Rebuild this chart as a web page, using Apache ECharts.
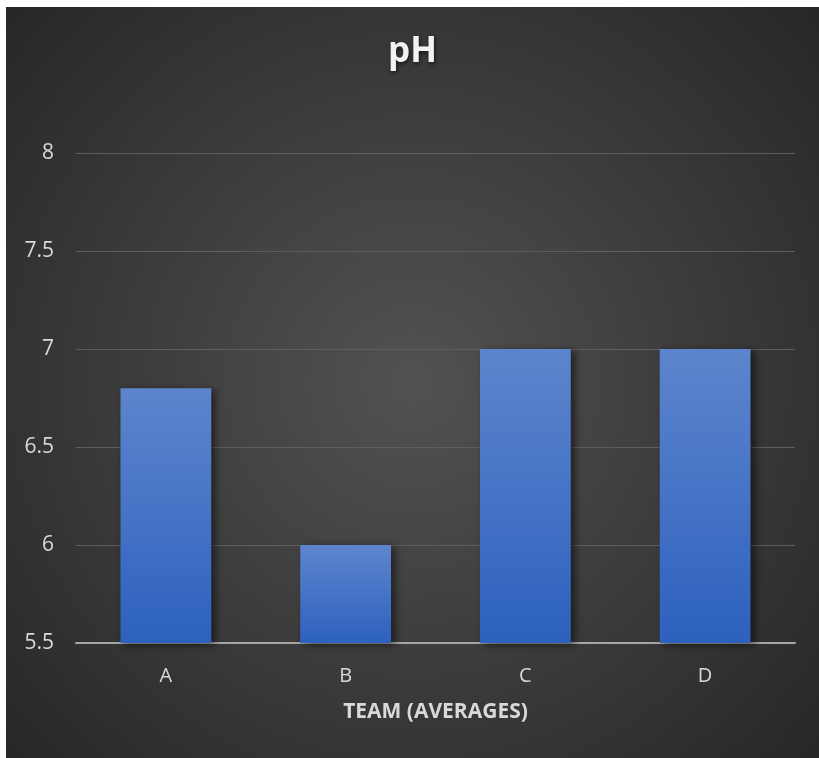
<!DOCTYPE html>
<html>
<head>
<meta charset="utf-8">
<script src="https://cdn.jsdelivr.net/npm/echarts@6/dist/echarts.min.js"></script>
<style>
  html, body { margin: 0; padding: 0; background: #fff; }
  #chart { position: absolute; left: 6px; top: 7px; width: 813px; height: 751px; }
</style>
</head>
<body>
<div id="chart"></div>
<script>
// chart data
let teams = ["A", "B", "C", "D"];
let phValues = [6.8, 6.0, 7.0, 7.0];
let yTicks = { min: 5.5, max: 8, step: 0.5 };

let font = "Open Sans";
let myChart = echarts.init(document.getElementById("chart"));

myChart.setOption({
  backgroundColor: {
    type: "radial",
    x: 0.5,
    y: 0.5,
    r: 0.75,
    colorStops: [
      { offset: 0, color: "#525252" },
      { offset: 1, color: "#262626" }
    ]
  },
  title: {
    text: "pH",
    left: "center",
    top: 23,
    textStyle: {
      color: "#f2f2f2",
      fontFamily: font,
      fontSize: 35,
      fontWeight: "bold",
      textShadowColor: "rgba(0,0,0,0.6)",
      textShadowBlur: 4,
      textShadowOffsetX: 1,
      textShadowOffsetY: 2
    }
  },
  grid: {
    left: 70,
    right: 24,
    top: 146,
    bottom: 115,
    containLabel: false
  },
  xAxis: {
    type: "category",
    data: teams,
    name: "TEAM (AVERAGES)",
    nameLocation: "middle",
    nameGap: 59,
    nameTextStyle: {
      color: "#d9d9d9",
      fontFamily: font,
      fontSize: 21,
      fontWeight: "bold"
    },
    axisLine: { lineStyle: { color: "#a6a6a6", width: 2 } },
    axisTick: { show: false },
    axisLabel: {
      color: "#d9d9d9",
      fontFamily: font,
      fontSize: 20,
      margin: 23
    }
  },
  yAxis: {
    type: "value",
    min: yTicks.min,
    max: yTicks.max,
    interval: yTicks.step,
    axisLine: { show: false },
    axisTick: { show: false },
    splitLine: { lineStyle: { color: "#5e5e5e", width: 1 } },
    axisLabel: {
      color: "#d9d9d9",
      fontFamily: font,
      fontSize: 21,
      margin: 22
    }
  },
  series: [
    {
      type: "bar",
      data: phValues,
      barWidth: "50.5%",
      itemStyle: {
        color: {
          type: "linear",
          x: 0, y: 0, x2: 0, y2: 1,
          colorStops: [
            { offset: 0, color: "#5d85cd" },
            { offset: 1, color: "#2d61be" }
          ]
        },
        shadowColor: "rgba(0,0,0,0.55)",
        shadowBlur: 8,
        shadowOffsetX: 4,
        shadowOffsetY: 2
      }
    }
  ],
  animation: false
});
</script>
</body>
</html>
